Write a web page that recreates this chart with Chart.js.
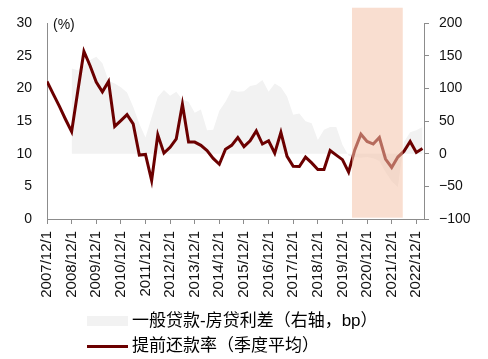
<!DOCTYPE html>
<html>
<head>
<meta charset="utf-8">
<script src="https://cdn.jsdelivr.net/npm/chart.js@4.4.1/dist/chart.umd.min.js"></script>
<style>
  html, body { margin: 0; padding: 0; background: #fff; }
  #wrap { position: relative; width: 488px; height: 359px; overflow: hidden; }
  #c { position: absolute; left: 0; top: 0; }
  .lg { position: absolute; left: 87px; font: 17px "Liberation Sans", "Noto Sans CJK SC", sans-serif; color: #000; white-space: nowrap; }
  .lg .sw { position: absolute; left: 0; width: 41px; }
  .lg .tx { position: absolute; left: 45px; line-height: 20px; }
</style>
</head>
<body>
<div id="wrap">
  <canvas id="c" width="488" height="359"></canvas>
  <div id="legend"></div>
</div>
<script>
// ---- categories (quarter ends) ----
const quarters = [
  '2007/12/1',
  '2008/3/1','2008/6/1','2008/9/1','2008/12/1',
  '2009/3/1','2009/6/1','2009/9/1','2009/12/1',
  '2010/3/1','2010/6/1','2010/9/1','2010/12/1',
  '2011/3/1','2011/6/1','2011/9/1','2011/12/1',
  '2012/3/1','2012/6/1','2012/9/1','2012/12/1',
  '2013/3/1','2013/6/1','2013/9/1','2013/12/1',
  '2014/3/1','2014/6/1','2014/9/1','2014/12/1',
  '2015/3/1','2015/6/1','2015/9/1','2015/12/1',
  '2016/3/1','2016/6/1','2016/9/1','2016/12/1',
  '2017/3/1','2017/6/1','2017/9/1','2017/12/1',
  '2018/3/1','2018/6/1','2018/9/1','2018/12/1',
  '2019/3/1','2019/6/1','2019/9/1','2019/12/1',
  '2020/3/1','2020/6/1','2020/9/1','2020/12/1',
  '2021/3/1','2021/6/1','2021/9/1','2021/12/1',
  '2022/3/1','2022/6/1','2022/9/1','2022/12/1',
  '2023/3/1'
];
// x-axis tick labels (shown every December)
const tickLabels = ['2007/12/1','2008/12/1','2009/12/1','2010/12/1','2011/12/1','2012/12/1','2013/12/1','2014/12/1',
  '2015/12/1','2016/12/1','2017/12/1','2018/12/1','2019/12/1','2020/12/1','2021/12/1','2022/12/1'];

// ---- series ----
// 提前还款率（季度平均）, %, left axis
const prepayRate = [21.1,19.2,17.3,15.3,13.4,19.6,25.7,23.5,21.0,19.5,21.1,14.2,15.1,16.0,14.6,9.8,
  9.9,5.9,12.9,10.1,11.0,12.3,17.6,11.8,11.8,11.3,10.5,9.3,8.4,10.7,11.3,12.5,
  11.1,12.0,13.5,11.5,12.0,10.1,13.3,9.6,8.1,8.05,9.5,8.6,7.6,7.6,10.5,9.8,
  9.1,7.2,10.6,13.0,11.9,11.5,12.5,9.2,7.9,9.5,10.4,11.9,10.2,10.8];
// 一般贷款-房贷利差（右轴，bp）
const loanSpread = [null,null,null,null,131,128,135,144,149,139,112,108,102,94,72,46,
  25,56,87,98,89,95,83,80,63,68,36,37,66,80,98,95,
  96,104,106,113,95,108,102,88,60,62,50,47,21,37,41,41,
  14,-3,-5,-6,-5,-7,-11,-28,-42,-51,18,33,36,41];

// highlighted period (in quarter-index units) and its vertical extent (right-axis units)
const shadeFrom = 49.55, shadeTo = 57.8;
const shadeTopVal = 224, shadeBottomVal = -98;

const labelSpread = '一般贷款-房贷利差（右轴，bp）';
const labelPrepay = '提前还款率（季度平均）';

const pts = (arr) => arr.map((v, i) => ({ x: i, y: v }));
const yearIdx = tickLabels.map(t => quarters.indexOf(t));

Chart.defaults.font.family = '"Liberation Sans", Arial, sans-serif';
Chart.defaults.color = '#111';

const shadePlugin = {
  id: 'shade',
  afterDatasetsDraw(chart) {
    const { ctx } = chart;
    const x = chart.scales.x, y2 = chart.scales.y2, y = chart.scales.y;
    const x0 = x.getPixelForValue(shadeFrom), x1 = x.getPixelForValue(shadeTo);
    const t = y2.getPixelForValue(shadeTopVal), b = y2.getPixelForValue(shadeBottomVal);
    ctx.save();
    ctx.fillStyle = 'rgba(244,195,169,0.55)';
    ctx.fillRect(x0, t, x1 - x0, b - t);
    // unit label
    ctx.fillStyle = '#111';
    ctx.font = '14px "Liberation Sans", Arial, sans-serif';
    ctx.textBaseline = 'middle';
    ctx.textAlign = 'left';
    ctx.fillText('(%)', chart.chartArea.left + 6, y.getPixelForValue(30) + 2);
    ctx.restore();
  }
};

const chart = new Chart(document.getElementById('c'), {
  type: 'line',
  data: {
    datasets: [
      {
        label: labelSpread,
        data: pts(loanSpread),
        yAxisID: 'y2',
        backgroundColor: '#F2F2F2',
        borderWidth: 0,
        borderColor: 'rgba(0,0,0,0)',
        pointRadius: 0,
        fill: 'origin',
        tension: 0,
        order: 2
      },
      {
        label: labelPrepay,
        data: pts(prepayRate),
        yAxisID: 'y',
        borderColor: '#6B0000',
        backgroundColor: '#6B0000',
        borderWidth: 3,
        pointRadius: 0,
        fill: false,
        tension: 0,
        order: 1
      }
    ]
  },
  options: {
    responsive: false,
    animation: false,
    devicePixelRatio: 1,
    layout: { padding: { top: 15, bottom: 58, left: 0, right: 0 } },
    plugins: { legend: { display: false }, tooltip: { enabled: false } },
    scales: {
      x: {
        type: 'linear',
        min: 0,
        max: 61.25,
        afterBuildTicks: (s) => { s.ticks = yearIdx.map(v => ({ value: v })); },
        afterFit: (s) => { s.height = 82; },
        ticks: {
          autoSkip: false,
          maxRotation: 90,
          minRotation: 90,
          padding: 7,
          font: { size: 15 },
          color: '#111',
          callback: (v) => quarters[v]
        },
        grid: { display: true, drawOnChartArea: false, drawTicks: true, tickLength: 5, color: '#8c8c8c' },
        border: { display: true, color: '#8c8c8c' }
      },
      y: {
        position: 'left',
        min: 0,
        max: 30,
        afterFit: (s) => { s.width = 47; },
        ticks: { stepSize: 5, padding: 15, font: { size: 14 }, color: '#111' },
        grid: { display: false, drawTicks: false },
        border: { display: true, color: '#8c8c8c' }
      },
      y2: {
        position: 'right',
        min: -100,
        max: 200,
        afterFit: (s) => { s.width = 64; },
        ticks: {
          stepSize: 50, padding: 10, font: { size: 14 }, color: '#111',
          callback: (v) => String(v).replace('-', '\u2212')
        },
        grid: { display: true, drawOnChartArea: false, drawTicks: true, tickLength: 5, color: '#8c8c8c' },
        border: { display: true, color: '#8c8c8c' }
      }
    }
  },
  plugins: [shadePlugin]
});

// HTML legend built from the chart's datasets
const legend = document.getElementById('legend');
const rows = [
  { ds: chart.data.datasets[0], top: 311, kind: 'box' },
  { ds: chart.data.datasets[1], top: 336, kind: 'line' }
];
rows.forEach(r => {
  const d = document.createElement('div');
  d.className = 'lg';
  d.style.top = r.top + 'px';
  d.style.height = '20px';
  const sw = document.createElement('div');
  sw.className = 'sw';
  if (r.kind === 'box') { sw.style.top = '5px'; sw.style.height = '10px'; sw.style.background = r.ds.backgroundColor; }
  else { sw.style.top = '9px'; sw.style.height = '3px'; sw.style.background = r.ds.borderColor; }
  const tx = document.createElement('span');
  tx.className = 'tx';
  tx.textContent = r.ds.label;
  d.appendChild(sw); d.appendChild(tx);
  legend.appendChild(d);
});
</script>
</body>
</html>
